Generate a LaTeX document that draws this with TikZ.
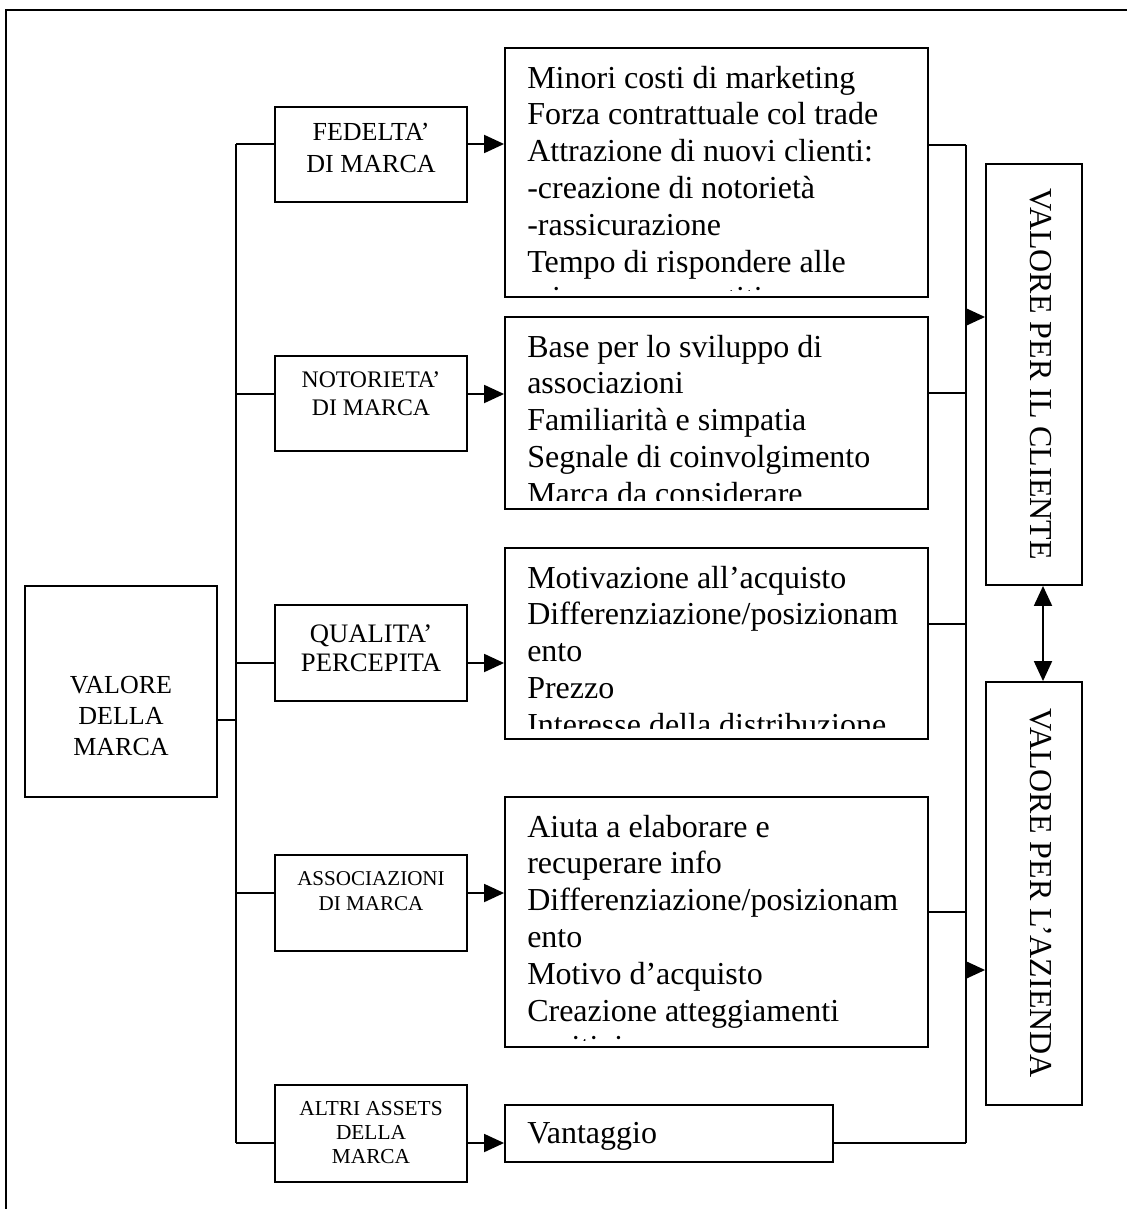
\documentclass[tikz,border=0pt]{standalone}
\usepackage{fontspec}
\setmainfont{Liberation Serif}
\usetikzlibrary{arrows.meta,fit}
\begin{document}
\begin{tikzpicture}[x=0.75pt,y=-0.75pt,
  ln/.style={line width=1.4pt},
  box/.style={draw, line width=1.4pt, inner sep=0pt, fit={#1}},
  arr/.style={line width=1.4pt, -{Triangle[length=15pt,width=13.5pt]}},
  darr/.style={line width=1.4pt, {Triangle[length=15pt,width=13.5pt]}-{Triangle[length=15pt,width=13.5pt]}},
  bigtxt/.style={font=\fontsize{24}{27.6}\selectfont, align=left, anchor=base west, inner sep=0pt},
  smalltxt/.style={align=center, anchor=base, inner sep=0pt},
  vtxt/.style={rotate=-90, anchor=base, inner sep=0pt, font=\fontsize{24}{28}\selectfont}
]
\useasboundingbox (0,0) rectangle (1127,1209);
% outer frame (only top and left edges lie within the picture)
\draw[ln] (6,1209) -- (6,10) -- (1127,10);

% boxes
\node[box={(25,586)(217,797)}] (vm) {};
\node[box={(275,107)(467,202)}] (fed) {};
\node[box={(275,356)(467,451)}] (not) {};
\node[box={(275,605)(467,701)}] (qua) {};
\node[box={(275,855)(467,951)}] (ass) {};
\node[box={(275,1085)(467,1182)}] (alt) {};
\node[box={(505,48)(928,297)}] (b1) {};
\node[box={(505,317)(928,509)}] (b2) {};
\node[box={(505,548)(928,739)}] (b3) {};
\node[box={(505,797)(928,1047)}] (b4) {};
\node[box={(505,1105)(833,1162)}] (b5) {};
\node[box={(986,164)(1082,585)}] (cl) {};
\node[box={(986,682)(1082,1105)}] (az) {};

% texts of the small boxes (anchor = baseline of the last line)
\node[smalltxt, font=\fontsize{19.5}{23.25}\selectfont] (tvm) at (121,755) {VALORE\\DELLA\\MARCA};
\node[smalltxt, font=\fontsize{19.5}{24}\selectfont] (tfed) at (371,172) {FEDELTA’\\DI MARCA};
\node[smalltxt, font=\fontsize{17.8}{20.5}\selectfont] (tnot) at (371,415) {NOTORIETA’\\DI MARCA};
\node[smalltxt, font=\fontsize{20}{21.75}\selectfont] (tqua) at (371,671) {QUALITA’\\PERCEPITA};
\node[smalltxt, font=\fontsize{15.8}{18.75}\selectfont] (tass) at (371,910) {ASSOCIAZIONI\\DI MARCA};
\node[smalltxt, font=\fontsize{16}{18}\selectfont] (talt) at (371,1163) {ALTRI ASSETS\\DELLA\\MARCA};

% texts of the big boxes (clipped as in the original text boxes)
\begin{scope}
\clip (505,48) rectangle (928,290);
\node[bigtxt] (tb1) at (527,308.8) {Minori costi di marketing\\Forza contrattuale col trade\\Attrazione di nuovi clienti:\\-creazione di notorietà\\-rassicurazione\\Tempo di rispondere alle\\minacce competitive};
\end{scope}
\begin{scope}
\clip (505,317) rectangle (928,500);
\node[bigtxt] (tb2) at (527,504.2) {Base per lo sviluppo di\\associazioni\\Familiarità e simpatia\\Segnale di coinvolgimento\\Marca da considerare};
\end{scope}
\begin{scope}
\clip (505,548) rectangle (928,728);
\node[bigtxt] (tb3) at (527,735.2) {Motivazione all’acquisto\\Differenziazione/posizionam\\ento\\Prezzo\\Interesse della distribuzione};
\end{scope}
\begin{scope}
\clip (505,797) rectangle (928,1040);
\node[bigtxt] (tb4) at (527,1057.8) {Aiuta a elaborare e\\recuperare info\\Differenziazione/posizionam\\ento\\Motivo d’acquisto\\Creazione atteggiamenti\\positivi};
\end{scope}
\node[bigtxt] (tb5) at (527,1143) {Vantaggio};

% vertical texts
\node[vtxt] (tcl) at (1030,374) {VALORE PER IL CLIENTE};
\node[vtxt] (taz) at (1030,893) {VALORE PER L’AZIENDA};

% left bus
\coordinate (l0) at (236,720);
\coordinate (l1) at (236,144);
\coordinate (l2) at (236,394);
\coordinate (l3) at (236,663);
\coordinate (l4) at (236,893);
\coordinate (l5) at (236,1143);
\draw[ln] (l1) -- (l5);
\draw[ln] (vm.east |- l0) -- (l0);
\draw[ln] (l1) -- (fed.west |- l1);
\draw[ln] (l2) -- (not.west |- l2);
\draw[ln] (l3) -- (qua.west |- l3);
\draw[ln] (l4) -- (ass.west |- l4);
\draw[ln] (l5) -- (alt.west |- l5);
\draw[arr] (fed.east |- l1) -- (b1.west |- l1);
\draw[arr] (not.east |- l2) -- (b2.west |- l2);
\draw[arr] (qua.east |- l3) -- (b3.west |- l3);
\draw[arr] (ass.east |- l4) -- (b4.west |- l4);
\draw[arr] (alt.east |- l5) -- (b5.west |- l5);

% right bus
\coordinate (r1) at (966,145);
\coordinate (r2) at (966,393);
\coordinate (r3) at (966,624);
\coordinate (r4) at (966,912);
\coordinate (r5) at (966,1143);
\coordinate (ra) at (966,317);
\coordinate (rb) at (966,970);
\draw[ln] (r1) -- (r5);
\draw[ln] (b1.east |- r1) -- (r1);
\draw[ln] (b2.east |- r2) -- (r2);
\draw[ln] (b3.east |- r3) -- (r3);
\draw[ln] (b4.east |- r4) -- (r4);
\draw[ln] (b5.east |- r5) -- (r5);
\draw[arr] (ra) -- (cl.west |- ra);
\draw[arr] (rb) -- (az.west |- rb);

% double arrow between the two value boxes
\coordinate (dx) at (1043,0);
\draw[darr] (cl.south -| dx) -- (az.north -| dx);
\end{tikzpicture}
\end{document}
